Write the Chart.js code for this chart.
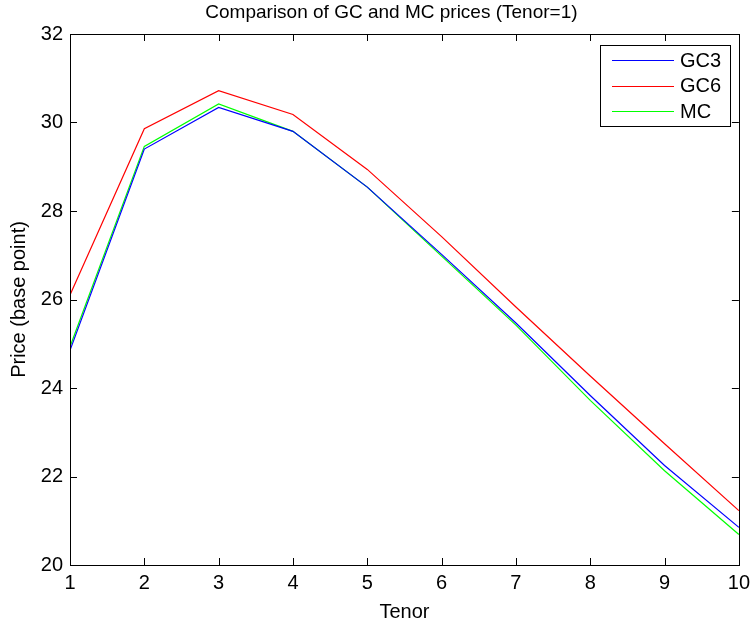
<!DOCTYPE html>
<html>
<head>
<meta charset="utf-8">
<script src="https://cdn.jsdelivr.net/npm/chart.js@4/dist/chart.umd.min.js"></script>
<style>
html,body{margin:0;padding:0;background:#fff;}
#wrap{width:756px;height:624px;}
</style>
</head>
<body>
<div id="wrap"><canvas id="c" width="756" height="624"></canvas></div>
<script>
const tenors = [1, 2, 3, 4, 5, 6, 7, 8, 9, 10];
const gc3 = [24.85, 29.40, 30.34, 29.80, 28.54, 27.02, 25.47, 23.83, 22.25, 20.85];
const gc6 = [26.10, 29.86, 30.72, 30.18, 28.94, 27.42, 25.83, 24.27, 22.74, 21.23];
const mc  = [24.93, 29.46, 30.42, 29.80, 28.54, 26.98, 25.42, 23.72, 22.13, 20.69];
const seriesNames = ['GC3', 'GC6', 'MC'];
const seriesColors = ['#0000ff', '#ff0000', '#00ff00'];
const xTicks = [1, 2, 3, 4, 5, 6, 7, 8, 9, 10];
const yTicks = [20, 22, 24, 26, 28, 30, 32];
const chartTitle = 'Comparison of GC and MC prices (Tenor=1)';

const FONT = 'Liberation Sans, Arial, Helvetica, sans-serif';

const boxPlugin = {
  id: 'matlabBox',
  afterDraw(chart) {
    const ctx = chart.ctx, a = chart.chartArea;
    const xs = chart.scales.x, ys = chart.scales.y;
    ctx.save();
    // title
    ctx.fillStyle = '#000';
    ctx.font = '19px ' + FONT;
    ctx.textAlign = 'center';
    ctx.textBaseline = 'middle';
    ctx.fillText(chartTitle, (a.left + a.right) / 2 - 13, 13);
    ctx.textAlign = 'left';

    ctx.strokeStyle = '#000';
    ctx.lineWidth = 1;
    ctx.strokeRect(Math.round(a.left) + 0.5, Math.round(a.top) + 0.5,
                   Math.round(a.right - a.left), Math.round(a.bottom - a.top));
    const tl = 7;
    ctx.beginPath();
    xTicks.forEach(v => {
      const px = Math.round(xs.getPixelForValue(v)) + 0.5;
      ctx.moveTo(px, a.bottom); ctx.lineTo(px, a.bottom - tl);
      ctx.moveTo(px, a.top); ctx.lineTo(px, a.top + tl);
    });
    yTicks.forEach(v => {
      const py = Math.round(ys.getPixelForValue(v)) + 0.5;
      ctx.moveTo(a.left, py); ctx.lineTo(a.left + tl, py);
      ctx.moveTo(a.right, py); ctx.lineTo(a.right - tl, py);
    });
    ctx.stroke();

    // legend box (inside top-right)
    const lw = 130, lh = 81;
    const lx = Math.round(a.right) - 9 - lw, ly = Math.round(a.top) + 11;
    ctx.fillStyle = '#fff';
    ctx.fillRect(lx, ly, lw, lh);
    ctx.strokeRect(lx + 0.5, ly + 0.5, lw, lh);
    ctx.font = '20px ' + FONT;
    ctx.textBaseline = 'middle';
    chart.data.datasets.forEach((ds, i) => {
      const yy = ly + 15 + i * 25.5;
      ctx.strokeStyle = ds.borderColor;
      ctx.beginPath();
      ctx.moveTo(lx + 12, Math.round(yy) + 0.5);
      ctx.lineTo(lx + 74, Math.round(yy) + 0.5);
      ctx.stroke();
      ctx.fillStyle = '#000';
      ctx.fillText(ds.label, lx + 80, yy + 1);
    });
    ctx.restore();
  }
};

const mk = (vals) => tenors.map((t, i) => ({x: t, y: vals[i]}));

new Chart(document.getElementById('c'), {
  type: 'line',
  data: {
    datasets: [gc3, gc6, mc].map((vals, i) => ({
      label: seriesNames[i],
      data: mk(vals),
      borderColor: seriesColors[i],
      backgroundColor: seriesColors[i],
      borderWidth: 1.2,
      pointRadius: 0,
      tension: 0,
      fill: false
    }))
  },
  options: {
    responsive: false,
    animation: false,
    devicePixelRatio: 1,
    layout: {padding: {left: 0, right: 15, top: 34, bottom: 0}},
    plugins: {
      legend: {display: false},
      tooltip: {enabled: false},
      title: {display: false}
    },
    scales: {
      x: {
        type: 'linear',
        min: 1, max: 10,
        afterFit: s => { s.height = 59; },
        afterBuildTicks: s => { s.ticks = xTicks.map(v => ({value: v})); },
        grid: {display: false, drawTicks: false},
        border: {display: false},
        ticks: {color: '#000', font: {family: FONT, size: 20}, padding: 6, maxRotation: 0},
        title: {display: true, text: 'Tenor', color: '#000', font: {family: FONT, size: 20}, padding: {top: -2, bottom: 0}}
      },
      y: {
        type: 'linear',
        min: 20, max: 32,
        afterFit: s => { s.width = 70; },
        afterBuildTicks: s => { s.ticks = yTicks.map(v => ({value: v})); },
        grid: {display: false, drawTicks: false},
        border: {display: false},
        ticks: {color: '#000', font: {family: FONT, size: 20}, padding: 7},
        title: {display: true, text: 'Price (base point)', color: '#000', font: {family: FONT, size: 20}, padding: {top: 7, bottom: 0}}
      }
    }
  },
  plugins: [boxPlugin]
});
</script>
</body>
</html>
